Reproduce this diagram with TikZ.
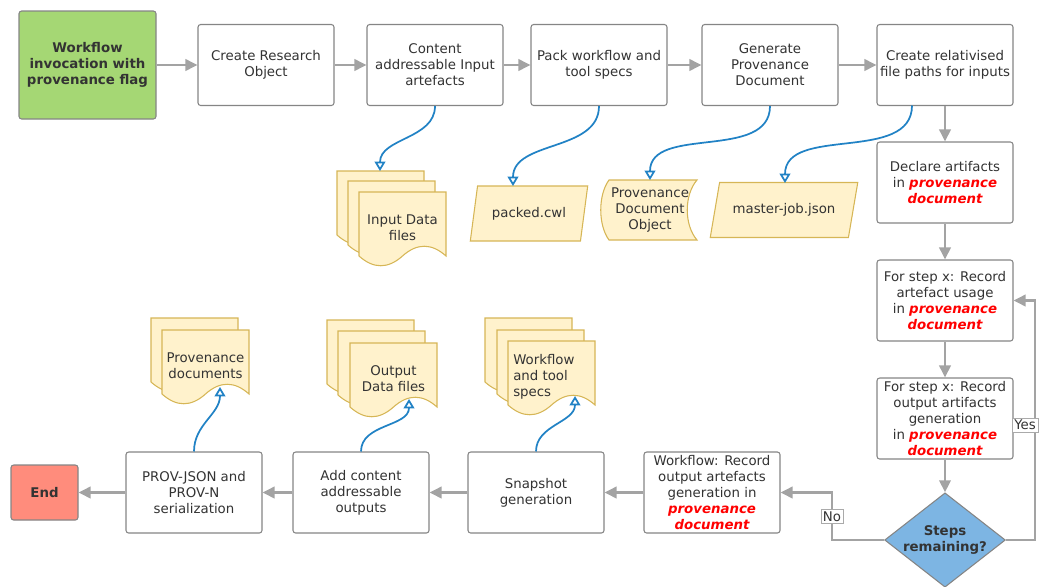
\documentclass[tikz,border=0pt]{standalone}
\usepackage{fontspec}
\setmainfont{DejaVu Sans}
\usepackage{tikz}
\usetikzlibrary{shapes.geometric,arrows.meta}
\definecolor{myboxline}{HTML}{858585}
\definecolor{myflowcolor}{HTML}{A3A3A3}
\definecolor{mytextcolor}{HTML}{333333}
\definecolor{mystartcolor}{HTML}{A5D774}
\definecolor{myendcolor}{HTML}{FF8C7C}
\definecolor{mydecisioncolor}{HTML}{7DB5E3}
\definecolor{mydatacolor}{HTML}{FFF2CC}
\definecolor{mydataline}{HTML}{D6B656}
\definecolor{mylinkcolor}{HTML}{2182C5}
\definecolor{myprovcolor}{HTML}{FF0000}

\newcommand\pv[1]{{\color{myprovcolor}\bfseries\itshape #1}}
\newcommand\docsheet[2]{%
  \begin{scope}[shift={(#1,-#2)}]%
    \draw[datashape] (0,0) -- (87,0) -- (87,-64) .. controls (72.5,-51) and (58,-51) .. (43.5,-64) .. controls (29,-77) and (14.5,-77) .. (0,-64) -- cycle;%
  \end{scope}%
}

\tikzset{%
  stepbox/.style={draw=myboxline, fill=white, rectangle, rounded corners=2pt, line width=0.8pt, minimum width=102pt, minimum height=60.75pt, align=center, inner xsep=1pt, inner ysep=0pt, text=mytextcolor, font=\fontsize{10pt}{12pt}\selectfont},
  startbox/.style={stepbox, fill=mystartcolor, minimum width=102.75pt, minimum height=81pt, font=\fontsize{10pt}{12pt}\selectfont\bfseries},
  endbox/.style={stepbox, fill=myendcolor, minimum width=50.25pt, minimum height=41.25pt, font=\fontsize{10pt}{12pt}\selectfont\bfseries},
  decision/.style={draw=myboxline, fill=mydecisioncolor, diamond, aspect=1.28, inner sep=0pt, line width=0.8pt, minimum width=90pt, minimum height=70.5pt, align=center, text=mytextcolor, font=\fontsize{10pt}{12pt}\selectfont\bfseries},
  flow/.style={draw=myflowcolor, line width=2pt, -{Triangle[length=9pt,width=8.5pt]}},
  link/.style={draw=mylinkcolor, line width=1.3pt, -{Triangle[open,length=7pt,width=8pt,fill=white]}},
  datashape/.style={draw=mydataline, fill=mydatacolor, line width=0.8pt},
  datatext/.style={text=mytextcolor, align=center, inner sep=0pt, font=\fontsize{10pt}{12pt}\selectfont},
  slanted/.style={datashape, datatext, trapezium, trapezium stretches=true, minimum height=41.25pt},
  answer/.style={draw=myboxline!70, fill=white, line width=0.4pt, inner sep=1.5pt, text=mytextcolor, font=\fontsize{10pt}{12pt}\selectfont},
}

\begin{document}
\begin{tikzpicture}[x=0.75pt, y=0.75pt]%
\useasboundingbox (0,0) rectangle (1041,-586);%
% top row
\node[startbox] (start) at (87.5,-65) {Workflow\\invocation with\\provenance flag};%
\node[stepbox] (research) at (266,-65) {Create Research\\Object};%
\node[stepbox] (content) at (435,-65) {Content\\addressable Input\\artefacts};%
\node[stepbox] (pack) at (599,-65) {Pack workflow and\\tool specs};%
\node[stepbox] (generate) at (770,-65) {Generate\\Provenance\\Document};%
\node[stepbox] (relative) at (945,-65) {Create relativised\\file paths for inputs};%
% right column
\node[stepbox] (declare) at (945,-182.5) {Declare artifacts\\in \pv{provenance}\\\pv{document}};%
\node[stepbox] (usage) at (945,-300.5) {For step x: Record\\artefact usage\\in \pv{provenance}\\\pv{document}};%
\node[stepbox] (output) at (945,-418.5) {For step x: Record\\output artifacts\\generation\\in \pv{provenance}\\\pv{document}};%
\node[decision] (steps) at (945,-540) {Steps\\remaining?};%
% bottom row
\node[stepbox] (record) at (712,-492.5) {Workflow: Record\\output artefacts\\generation in\\\pv{provenance}\\\pv{document}};%
\node[stepbox] (snapshot) at (536,-492.5) {Snapshot\\generation};%
\node[stepbox] (addout) at (361,-492.5) {Add content\\addressable\\outputs};%
\node[stepbox] (serial) at (194,-492.5) {PROV-JSON and\\PROV-N\\serialization};%
\node[endbox] (finish) at (44.5,-492.5) {End};%
% data objects
\docsheet{337}{171}\docsheet{348}{181}\docsheet{359}{192}%
\node[datatext] (inputs) at (402.5,-228) {Input Data\\files};%
\node[slanted, trapezium left angle=68, trapezium right angle=112, minimum width=88.5pt] (packed) at (529,-213.5) {packed.cwl};%
\draw[datashape] (609,-180) -- (697,-180) .. controls (684,-195) and (684,-225) .. (697,-240) -- (609,-240) .. controls (598,-225) and (598,-195) .. (609,-180) -- cycle;%
\node[datatext] (pdo) at (650,-210) {Provenance\\Document\\Object};%
\node[slanted, trapezium left angle=60, trapezium right angle=120, minimum width=111pt] (job) at (784,-210) {master-job.json};%
\docsheet{151}{318}\docsheet{162}{330}%
\node[datatext] (provdocs) at (205.5,-366) {Provenance\\documents};%
\docsheet{327}{320}\docsheet{338}{331}\docsheet{350}{343}%
\node[datatext] (outfiles) at (393.5,-379) {Output\\Data files};%
\docsheet{485}{318}\docsheet{497}{330}\docsheet{508}{341}%
\node[datatext, align=left, anchor=west] (specs) at (513,-377) {Workflow\\and tool\\specs};%
% link ends
\coordinate (inTip) at (380,-171);%
\coordinate (packTip) at (513,-186);%
\coordinate (pdoTip) at (650,-180);%
\coordinate (jobTip) at (785,-183);%
\coordinate (relOut) at (912,-105.5);%
\coordinate (provTip) at (220,-387);%
\coordinate (outTip) at (409,-399);%
\coordinate (specTip) at (575,-396);%
\coordinate (yesBend) at (1035,-540);%
\coordinate (noBend) at (832,-492.5);%
% process flow
\draw[flow] (start) -- (research);%
\draw[flow] (research) -- (content);%
\draw[flow] (content) -- (pack);%
\draw[flow] (pack) -- (generate);%
\draw[flow] (generate) -- (relative);%
\draw[flow] (relative) -- (declare);%
\draw[flow] (declare) -- (usage);%
\draw[flow] (usage) -- (output);%
\draw[flow] (output) -- (steps);%
\draw[flow] (steps.east) -- (yesBend) |- node[answer, pos=0.24, xshift=-7.5pt] {Yes} (usage.east);%
\draw[flow] (steps.west) -| node[answer, pos=0.75] {No} (noBend) -- (record.east);%
\draw[flow] (record) -- (snapshot);%
\draw[flow] (snapshot) -- (addout);%
\draw[flow] (addout) -- (serial);%
\draw[flow] (serial) -- (finish);%
% artefact links
\draw[link] (content.south) to[out=-90, in=90] (inTip);%
\draw[link] (pack.south) to[out=-90, in=90] (packTip);%
\draw[link] (generate.south) to[out=-90, in=90] (pdoTip);%
\draw[link] (relOut) to[out=-90, in=90] (jobTip);%
\draw[link] (serial.north) to[out=90, in=-90] (provTip);%
\draw[link] (addout.north) to[out=90, in=-90] (outTip);%
\draw[link] (snapshot.north) to[out=90, in=-90] (specTip);%
\end{tikzpicture}
\end{document}
